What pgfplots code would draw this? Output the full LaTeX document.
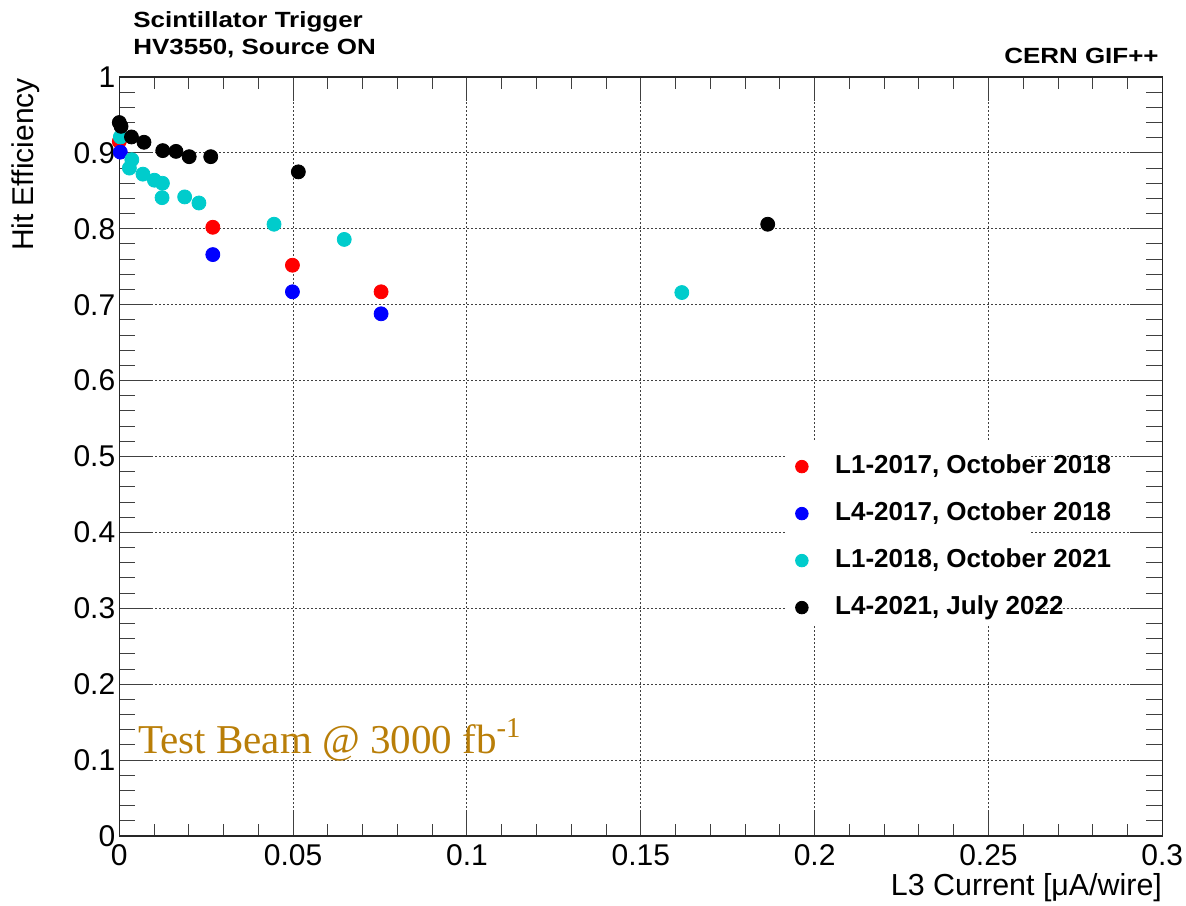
\documentclass[border=0pt]{standalone}
\usepackage{pgfplots}
\pgfplotsset{compat=1.18}
\usepackage{fontspec}
\setmainfont{Liberation Sans}
\newfontfamily\titlefont[FakeStretch=1.18]{Liberation Sans}
\newfontfamily\serifgold{Liberation Serif}
\definecolor{rootcyan}{RGB}{0,204,204}
\definecolor{gold}{RGB}{185,126,8}
\begin{document}
\begin{tikzpicture}
\useasboundingbox (0,0) rectangle (593pt,452.5pt);
\begin{axis}[
  at={(59.65pt,34.5pt)}, anchor=south west,
  scale only axis, width=521.5pt, height=379.5pt,
  xmin=0, xmax=0.3, ymin=0, ymax=1,
  xtick={0,0.05,...,0.3}, ytick={0,0.1,...,1},
  minor x tick num=4, minor y tick num=4,
  scaled ticks=false,
  xticklabels={0,0.05,0.1,0.15,0.2,0.25,0.3},
  yticklabels={0,0.1,0.2,0.3,0.4,0.5,0.6,0.7,0.8,0.9,1},
  ticklabel style={font=\fontsize{15}{17}\selectfont},
  /pgf/number format/assume math mode=true,
  xticklabel style={yshift=-0.5pt},
  yticklabel style={xshift=1.5pt},
  tick align=inside,
  xtick style={/pgfplots/major tick length=12pt,/pgfplots/minor tick length=6pt},
  ytick style={/pgfplots/major tick length=16pt,/pgfplots/minor tick length=8pt},
  tick style={line width=0.5pt, black!75},
  axis line style={line width=0.6pt, black!85},
  grid=major,
  major grid style={dash pattern=on 0.8pt off 1.2pt, line width=0.5pt, black!75},
  xlabel={L3 Current [μA/wire]},
  ylabel={Hit Efficiency},
  x label style={at={(axis description cs:1,0)}, anchor=north east, inner sep=0pt, yshift=-18.5pt, font=\fontsize{15.2}{17}\selectfont},
  y label style={at={(axis description cs:-0.1035,0.999)}, anchor=north east, rotate=0, inner sep=0pt, font=\fontsize{15}{17}\selectfont},
  legend style={draw=none, fill=none, at={(axis cs:0.1944,0.5033)}, anchor=north west,
    inner sep=0pt, font=\bfseries\fontsize{13}{15}\selectfont,
    nodes={inner sep=0pt, text height=9.5pt, text depth=2.7pt},
    row sep=11.3pt,
    /tikz/every odd column/.append style={column sep=13.5pt}},
  legend cell align=left,
  legend image post style={scale=0.9},
  every axis plot/.append style={only marks, mark=*, mark size=3.5pt},
]
\fill[white] (axis cs:0.1915,0.278) rectangle (axis cs:0.262,0.522);
\addplot[color=red, mark options={draw=red, fill=red}] coordinates {
(0.0000,0.915) (0.0269,0.802) (0.0498,0.752) (0.0753,0.717)};
\addlegendentry{L1-2017, October 2018}
\addplot[color=blue, mark options={draw=blue, fill=blue}] coordinates {
(0.0003,0.901) (0.0269,0.766) (0.0498,0.717) (0.0753,0.688)};
\addlegendentry{L4-2017, October 2018}
\addplot[color=rootcyan, mark options={draw=rootcyan, fill=rootcyan}] coordinates {
(0.0003,0.921) (0.0036,0.891) (0.0029,0.880) (0.0068,0.872) (0.0101,0.864)
(0.0124,0.860) (0.0123,0.841) (0.0188,0.842) (0.0229,0.834) (0.0445,0.806)
(0.0647,0.786) (0.1618,0.716)};
\addlegendentry{L1-2018, October 2021}
\addplot[color=black, mark options={draw=black, fill=black}] coordinates {
(0.0000,0.940) (0.0005,0.935) (0.0035,0.921) (0.0071,0.914) (0.0125,0.903)
(0.0163,0.902) (0.0201,0.895) (0.0263,0.895) (0.0515,0.875) (0.1865,0.806)};
\addlegendentry{L4-2021, July 2022}
\end{axis}
\node[anchor=base west, inner sep=0pt, font=\titlefont\bfseries\fontsize{11}{13}\selectfont] at (66.5pt,438.5pt) {Scintillator Trigger};
\node[anchor=base west, inner sep=0pt, font=\titlefont\bfseries\fontsize{11}{13}\selectfont] at (66.5pt,425pt) {HV3550, Source ON};
\node[anchor=base east, inner sep=0pt, font=\titlefont\bfseries\fontsize{11}{13}\selectfont] at (579.5pt,420.5pt) {CERN GIF++};
\node[anchor=base west, inner sep=0pt, text=gold, font=\serifgold\fontsize{20.5}{24}\selectfont] at (69pt,76pt) {Test Beam @ 3000 fb\textsuperscript{-1}};
\end{tikzpicture}
\end{document}
